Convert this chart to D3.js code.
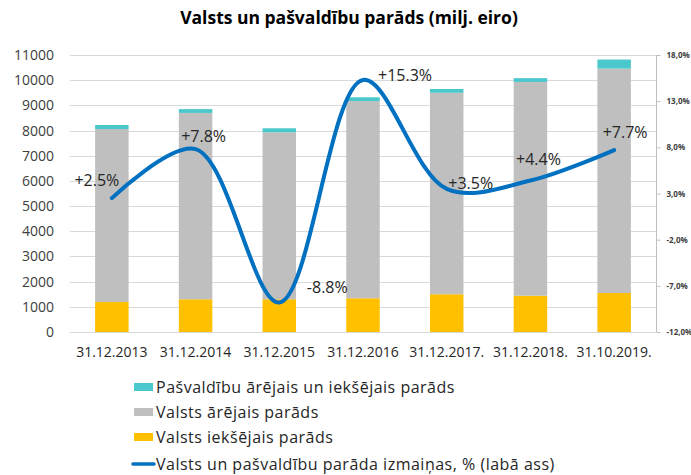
<!DOCTYPE html>
<html>
<head>
<meta charset="utf-8">
<script src="https://cdn.jsdelivr.net/npm/d3@7"></script>
<style>
  body { margin: 0; background: #fff; }
  text { font-family: 'Open Sans', sans-serif; }
</style>
</head>
<body>
<div id="graph"></div>
<script>
const w = 691;
const h = 475;

// data
const dates = ['31.12.2013', '31.12.2014', '31.12.2015', '31.12.2016', '31.12.2017.', '31.12.2018.', '31.10.2019.'];
const valstsIeksejais = [1190, 1300, 1300, 1340, 1500, 1440, 1550];
const valstsArejais = [6870, 7400, 6630, 7830, 8000, 8490, 8910];
const pasvaldibu = [160, 150, 160, 150, 150, 150, 360];
const izmainas = [2.5, 7.8, -8.8, 15.3, 3.5, 4.4, 7.7];
const izmainasLabels = ['+2.5%', '+7.8%', '-8.8%', '+15.3%', '+3.5%', '+4.4%', '+7.7%'];
const leftTicks = d3.range(0, 11001, 1000);
const rightTicks = [-12, -7, -2, 3, 8, 13, 18];

const seriesNames = ['Pašvaldību ārējais un iekšējais parāds', 'Valsts ārējais parāds', 'Valsts iekšējais parāds',
                     'Valsts un pašvaldību parāda izmaiņas, % (labā ass)'];
const colors = ['#4BC8CC', '#BFBFBF', '#FFC000', '#0070C0'];

// label offsets from the line point (pixels)
const labelOffsets = [[-15, -18], [8, -13], [48, -15], [42, -5], [24, -6], [8, -22], [11, -18]];

const pLeft = 70, pRight = 656, pTop = 55, pBottom = 332;

const xScale = d3.scaleBand()
                 .domain(dates)
                 .range([pLeft, pRight])
                 .paddingInner(0.6)
                 .paddingOuter(0.3);

const yScale = d3.scaleLinear()
                 .domain([0, 11000])
                 .range([pBottom, pTop]);

const y2Scale = d3.scaleLinear()
                  .domain([-12, 18])
                  .range([pBottom, pTop]);

const svg = d3.select('#graph')
              .append('svg')
              .attr('width', w)
              .attr('height', h);

// title
svg.append('text')
   .attr('x', 349)
   .attr('y', 24)
   .attr('text-anchor', 'middle')
   .style('font-size', '17.5px')
   .style('font-weight', 'bold')
   .style('fill', '#000')
   .text('Valsts un pašvaldību parāds (milj. eiro)');

// grid
svg.append('g')
   .selectAll('line')
   .data(leftTicks)
   .enter()
   .append('line')
   .attr('x1', pLeft)
   .attr('x2', pRight)
   .attr('y1', (d) => Math.round(yScale(d)) + 0.5)
   .attr('y2', (d) => Math.round(yScale(d)) + 0.5)
   .attr('stroke', '#D9D9D9')
   .attr('stroke-width', 1);

// left axis labels
svg.append('g')
   .attr('transform', 'translate(' + pLeft + ',0)')
   .call(d3.axisLeft(yScale).tickValues(leftTicks).tickSize(0).tickPadding(16).tickFormat(d3.format('d')))
   .call((g) => g.select('.domain').remove())
   .selectAll('text')
   .style('font-family', "'Open Sans', sans-serif")
   .style('font-size', '14px')
   .style('fill', '#404040');

// right axis
const rAxis = svg.append('g')
   .attr('transform', 'translate(' + (pRight + 0.5) + ',0)')
   .call(d3.axisRight(y2Scale).tickValues(rightTicks).tickSize(4).tickPadding(6)
           .tickFormat((d) => d.toFixed(1).replace('.', ',') + '%'));
rAxis.select('.domain').attr('stroke', '#BFBFBF').attr('d', 'M0,' + pTop + 'V' + pBottom);
rAxis.selectAll('line').attr('stroke', '#BFBFBF');
rAxis.selectAll('text')
     .style('font-family', "'Open Sans', sans-serif")
     .style('font-size', '8px')
     .style('font-weight', 'bold')
     .style('fill', '#404040');

// stacked bars
const stackData = dates.map((d, i) => ({date: d, iek: valstsIeksejais[i], are: valstsArejais[i], pas: pasvaldibu[i]}));
const stack = d3.stack().keys(['iek', 'are', 'pas'])(stackData);
const stackColors = {iek: colors[2], are: colors[1], pas: colors[0]};

svg.append('g')
   .selectAll('g')
   .data(stack)
   .enter()
   .append('g')
   .attr('fill', (s) => stackColors[s.key])
   .selectAll('rect')
   .data((s) => s)
   .enter()
   .append('rect')
   .attr('x', (d) => xScale(d.data.date))
   .attr('width', xScale.bandwidth())
   .attr('y', (d) => yScale(d[1]))
   .attr('height', (d) => yScale(d[0]) - yScale(d[1]));

// x axis
svg.append('line')
   .attr('x1', pLeft)
   .attr('x2', pRight)
   .attr('y1', pBottom + 0.5)
   .attr('y2', pBottom + 0.5)
   .attr('stroke', '#D9D9D9');

svg.append('g')
   .selectAll('text')
   .data(dates)
   .enter()
   .append('text')
   .attr('x', (d) => xScale(d) + xScale.bandwidth() / 2)
   .attr('y', 357)
   .attr('text-anchor', 'middle')
   .style('font-size', '14px')
   .style('fill', '#262626')
   .text((d) => d);

// line
const lineData = dates.map((d, i) => [xScale(d) + xScale.bandwidth() / 2, y2Scale(izmainas[i])]);
svg.append('path')
   .datum(lineData)
   .attr('fill', 'none')
   .attr('stroke', colors[3])
   .attr('stroke-width', 4)
   .attr('stroke-linecap', 'round')
   .attr('d', d3.line().curve(d3.curveCatmullRom));

// data labels
svg.append('g')
   .selectAll('text')
   .data(lineData)
   .enter()
   .append('text')
   .attr('x', (d, i) => d[0] + labelOffsets[i][0])
   .attr('y', (d, i) => d[1] + labelOffsets[i][1])
   .attr('text-anchor', 'middle')
   .attr('dominant-baseline', 'central')
   .style('font-size', '16px')
   .style('fill', '#262626')
   .text((d, i) => izmainasLabels[i]);

// legend
const legendY = [387, 412, 437, 464];
const legend = svg.append('g');
seriesNames.forEach(function (name, i) {
  if (i < 3) {
    legend.append('rect')
          .attr('x', 134)
          .attr('y', legendY[i] - 4)
          .attr('width', 19)
          .attr('height', 8)
          .attr('fill', colors[i]);
  } else {
    legend.append('line')
          .attr('x1', 133)
          .attr('x2', 154)
          .attr('y1', legendY[i])
          .attr('y2', legendY[i])
          .attr('stroke', colors[3])
          .attr('stroke-width', 3.5)
          .attr('stroke-linecap', 'round');
  }
  legend.append('text')
        .attr('x', 156)
        .attr('y', legendY[i])
        .attr('dominant-baseline', 'central')
        .style('font-size', '16px')
        .style('letter-spacing', '0.5px')
        .style('fill', '#262626')
        .text(name);
});
</script>
</body>
</html>
